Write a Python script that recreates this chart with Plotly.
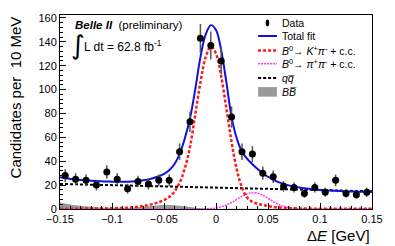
import plotly.graph_objects as go

# ---------------- data ----------------
bin_centers = [-0.145, -0.135, -0.125, -0.115, -0.105, -0.095, -0.085, -0.075, -0.065, -0.055,
               -0.045, -0.035, -0.025, -0.015, -0.005, 0.005, 0.015, 0.025, 0.035, 0.045,
               0.055, 0.065, 0.075, 0.085, 0.095, 0.105, 0.115, 0.125, 0.135, 0.145]
counts = [28, 25, 24, 20, 31, 25, 17, 23, 21, 24,
          24, 48, 73, 143, 137, 124, 77, 48, 46, 30,
          27, 19, 18, 13, 18, 14, 24, 13, 12, 14]
count_errors = [5.3, 5.0, 4.9, 4.5, 5.6, 5.0, 4.1, 4.8, 4.6, 4.9,
                4.9, 6.9, 8.5, 12.0, 11.7, 11.1, 8.8, 6.9, 6.8, 5.5,
                5.2, 4.4, 4.2, 3.6, 4.2, 3.7, 4.9, 3.6, 3.5, 3.7]

curve_x = [round(-0.15 + 0.005 * i, 3) for i in range(61)]

total_fit = [26.5, 25.8, 25.2, 24.7, 24.3, 24.0, 23.7, 23.4, 23.2, 23.0,
             22.9, 22.8, 22.8, 22.9, 23.1, 23.5, 24.0, 24.8, 25.9, 27.4,
             29.5, 32.5, 37.5, 46.0, 59.0, 76.0, 100.0, 127.0, 146.0, 154.0,
             150.0, 133.0, 106.0, 77.0, 59.0, 48.0, 42.0, 37.5, 33.5, 30.0,
             27.0, 24.5, 22.5, 21.0, 19.8, 18.8, 18.0, 17.3, 16.8, 16.4,
             16.0, 15.7, 15.5, 15.2, 15.0, 14.8, 14.7, 14.6, 14.5, 14.4, 14.3]

kpi_signal = [0.3, 0.3, 0.3, 0.3, 0.3, 0.35, 0.4, 0.4, 0.45, 0.5,
              0.6, 0.75, 0.9, 1.1, 1.4, 1.9, 2.5, 3.3, 4.3, 5.7,
              7.5, 10.0, 14.5, 22.0, 34.0, 52.0, 79.0, 106.0, 127.0, 136.0,
              130.0, 111.0, 84.0, 56.0, 33.0, 18.0, 9.5, 6.0, 4.4, 3.3,
              2.5, 1.8, 1.3, 1.0, 0.8, 0.6, 0.5, 0.4, 0.35, 0.3,
              0.3, 0.25, 0.25, 0.2, 0.2, 0.2, 0.2, 0.2, 0.2, 0.2, 0.2]

pipi_peak = [0.0, 0.0, 0.0, 0.0, 0.0, 0.0, 0.0, 0.0, 0.0, 0.0,
             0.0, 0.0, 0.0, 0.0, 0.0, 0.0, 0.0, 0.0, 0.0, 0.0,
             0.0, 0.0, 0.0, 0.0, 0.0, 0.0, 0.02, 0.06, 0.17, 0.41,
             0.92, 1.85, 3.35, 5.47, 8.0, 10.6, 12.7, 13.7, 13.3, 11.5,
             8.9, 6.2, 3.9, 2.2, 1.1, 0.5, 0.2, 0.08, 0.02, 0.02,
             0.02, 0.02, 0.02, 0.02, 0.02, 0.02, 0.02, 0.02, 0.02, 0.02, 0.02]

qq_x = [-0.15, 0.15]
qq_continuum = [21.0, 14.8]

bb_generic = [5.5, 4.6, 3.8, 3.2, 2.6, 2.2, 1.8, 1.5, 1.3, 1.1,
              1.0, 1.0, 1.0, 1.1, 1.3, 1.6, 2.0, 2.4, 2.8, 3.1,
              3.3, 3.3, 3.1, 2.7, 2.2, 1.6, 1.1, 0.7, 0.4, 0.3,
              0.2, 0.15, 0.15, 0.15, 0.15, 0.15, 0.15, 0.15, 0.15, 0.15,
              0.15, 0.15, 0.15, 0.15, 0.15, 0.15, 0.15, 0.15, 0.15, 0.15,
              0.15, 0.15, 0.15, 0.15, 0.15, 0.15, 0.15, 0.15, 0.15, 0.15, 0.15]

x_tickvals = [-0.15, -0.1, -0.05, 0, 0.05, 0.1, 0.15]
x_ticktext = ["\u22120.15", "\u22120.1", "\u22120.05", "0", "0.05", "0.1", "0.15"]
y_tickvals = [0, 20, 40, 60, 80, 100, 120, 140, 160]

FONT = "Liberation Sans, Arial, Helvetica, sans-serif"
BLUE = "#1010e0"
RED = "#ff1a1a"
MAGENTA = "#ff33ff"
GREY = "#999999"

fig = go.Figure()

fig.add_trace(go.Scatter(x=curve_x, y=bb_generic, mode="lines", line=dict(width=0, shape="spline"),
                         fill="tozeroy", fillcolor=GREY, name="BB", showlegend=False))
fig.add_trace(go.Scatter(x=qq_x, y=qq_continuum, mode="lines",
                         line=dict(color="black", width=2, dash="3px,2px"), showlegend=False))
fig.add_trace(go.Scatter(x=curve_x, y=pipi_peak, mode="lines",
                         line=dict(color=MAGENTA, width=1.5, dash="2px,1px", shape="spline"), showlegend=False))
fig.add_trace(go.Scatter(x=curve_x, y=total_fit, mode="lines",
                         line=dict(color=BLUE, width=2, shape="spline"), showlegend=False))
fig.add_trace(go.Scatter(x=curve_x, y=kpi_signal, mode="lines",
                         line=dict(color=RED, width=2.5, dash="3px,2px", shape="spline"), showlegend=False))
fig.add_trace(go.Scatter(x=bin_centers, y=counts, mode="markers",
                         marker=dict(color="black", size=7),
                         error_y=dict(type="data", array=count_errors, color="#555555", thickness=1.5, width=0),
                         showlegend=False))

# ---------------- manual legend (ROOT style) ----------------
lx0, lx1, ltext = 0.0405, 0.0586, 0.0614
rows = [155.9, 144.9, 132.7, 121.6, 109.7, 98.1]
labels = ["Data", "Total fit",
          "<i>B</i><sup>0</sup>\u2192 <i>K</i><sup>+</sup><i>\u03c0</i><sup>-</sup> + c.c.",
          "<i>B</i><sup>0</sup>\u2192 <i>\u03c0</i><sup>+</sup><i>\u03c0</i><sup>-</sup> + c.c.",
          "<i>q</i><i>q\u0305</i>",
          "<i>B</i><i>B\u0305</i>"]
shapes = []
shapes.append(dict(type="circle", xref="x", yref="y", x0=0.0478, x1=0.0512,
                   y0=rows[0] - 2.8, y1=rows[0] + 2.8, fillcolor="black", line=dict(width=0)))
shapes.append(dict(type="line", xref="x", yref="y", x0=lx0, x1=lx1, y0=rows[1], y1=rows[1],
                   line=dict(color=BLUE, width=2)))
shapes.append(dict(type="line", xref="x", yref="y", x0=lx0, x1=lx1, y0=rows[2], y1=rows[2],
                   line=dict(color=RED, width=2.5, dash="3px,2px")))
shapes.append(dict(type="line", xref="x", yref="y", x0=lx0, x1=lx1, y0=rows[3], y1=rows[3],
                   line=dict(color=MAGENTA, width=1.5, dash="2px,1px")))
shapes.append(dict(type="line", xref="x", yref="y", x0=lx0, x1=lx1, y0=rows[4], y1=rows[4],
                   line=dict(color="black", width=2, dash="3px,2px")))
shapes.append(dict(type="rect", xref="x", yref="y", x0=lx0, x1=lx1, y0=rows[5] - 4.0, y1=rows[5] + 4.0,
                   fillcolor=GREY, line=dict(width=0)))

annotations = []
for r, lab in zip(rows, labels):
    annotations.append(dict(x=ltext, y=r, xref="x", yref="y", text=lab, showarrow=False,
                            xanchor="left", yanchor="middle", font=dict(family=FONT, size=10.5, color="black")))

annotations.append(dict(x=(73 - 60) / 315, y=(209 - 23) / 196, xref="paper", yref="paper",
                        text="<b><i>Belle II</i></b>  (preliminary)", showarrow=False,
                        xanchor="left", yanchor="middle", font=dict(family=FONT, size=11.5, color="black")))
annotations.append(dict(x=(69 - 60) / 315, y=(209 - 43) / 196, xref="paper", yref="paper",
                        text="\u222b", showarrow=False,
                        xanchor="left", yanchor="middle", font=dict(family="DejaVu Sans", size=26, color="black")))
annotations.append(dict(x=(82 - 60) / 315, y=(209 - 44) / 196, xref="paper", yref="paper",
                        text="L dt = 62.8 fb<sup>-1</sup>", showarrow=False,
                        xanchor="left", yanchor="middle", font=dict(family=FONT, size=12, color="black")))
annotations.append(dict(x=(15 - 60) / 315, y=(209 - 12) / 196, xref="paper", yref="paper",
                        text="Candidates per  10 MeV", showarrow=False, textangle=-90,
                        xanchor="center", yanchor="top", font=dict(family=FONT, size=15, color="black")))
annotations.append(dict(x=1.0, y=(209 - 236) / 196, xref="paper", yref="paper",
                        text="\u0394<i>E</i> [GeV]", showarrow=False,
                        xanchor="right", yanchor="middle", font=dict(family=FONT, size=15, color="black")))

fig.update_layout(
    width=395, height=246,
    margin=dict(l=60, r=20, t=13, b=37),
    paper_bgcolor="white", plot_bgcolor="white",
    showlegend=False,
    shapes=shapes, annotations=annotations,
    font=dict(family=FONT, color="black"),
)
fig.update_xaxes(range=[-0.15, 0.15], tickvals=x_tickvals, ticktext=x_ticktext,
                 ticks="inside", ticklen=6, tickcolor="black", showgrid=False, zeroline=False,
                 showline=True, linecolor="black", linewidth=1, mirror=True,
                 tickfont=dict(family=FONT, size=11, color="black"),
                 minor=dict(dtick=0.01, tick0=0, ticks="inside", ticklen=3, tickcolor="black", showgrid=False))
fig.update_yaxes(range=[0, 162.5], tickvals=y_tickvals,
                 ticks="inside", ticklen=6, tickcolor="black", showgrid=False, zeroline=False,
                 showline=True, linecolor="black", linewidth=1, mirror=True,
                 tickfont=dict(family=FONT, size=11, color="black"),
                 minor=dict(dtick=4, tick0=0, ticks="inside", ticklen=3, tickcolor="black", showgrid=False))

fig.write_html("out.html", config={"displayModeBar": False},
               post_script="document.body.style.margin='0';document.body.style.overflow='hidden';")
